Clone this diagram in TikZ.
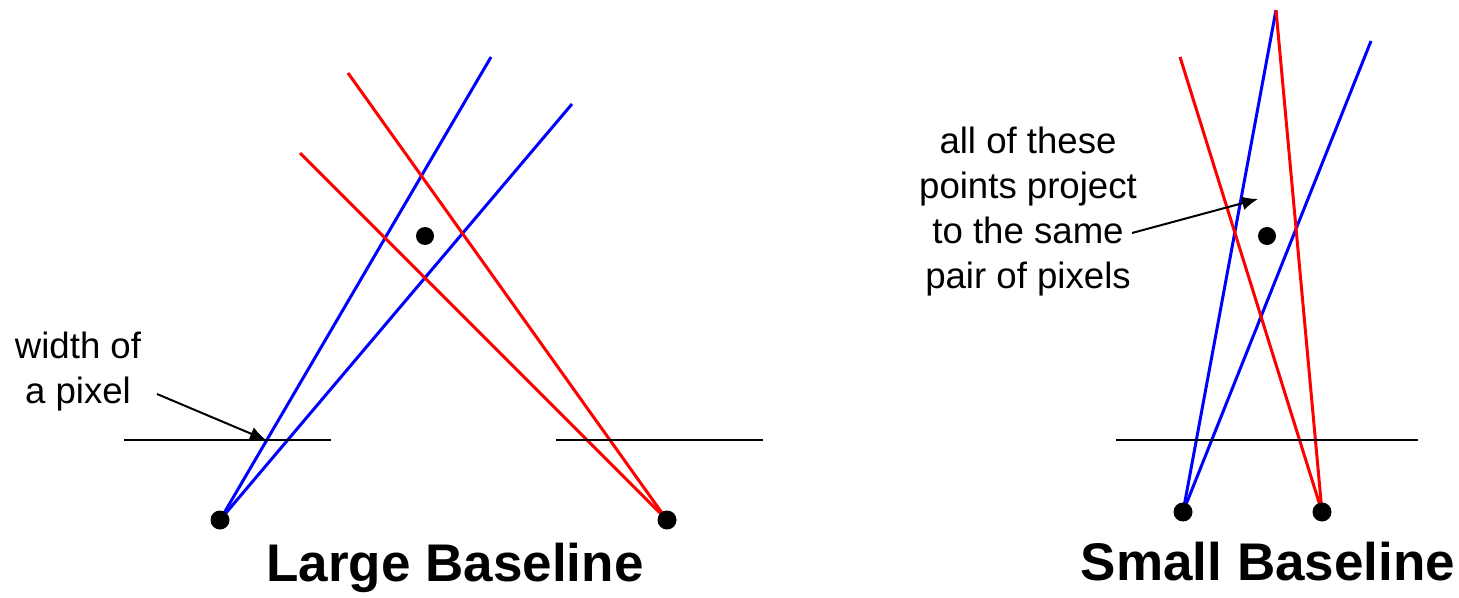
\documentclass[tikz,border=0pt]{standalone}
\usepackage{fontspec}
\setmainfont{Liberation Sans}
\usetikzlibrary{arrows.meta,positioning,calc}
\definecolor{rayoA}{HTML}{0000FF}
\definecolor{rayoR}{HTML}{FF0000}
\tikzset{
  camara/.style={circle,fill=black,inner sep=0pt,minimum size=9.5pt},
  punto/.style={circle,fill=black,inner sep=0pt,minimum size=9pt},
  rayo/.style={line width=1.5pt},
  plano/.style={line width=1pt},
  nota/.style={align=center,font=\fontsize{18.3}{22.5}\selectfont},
  titulo/.style={font=\fontsize{26.5}{30}\selectfont\bfseries},
  flecha/.style={line width=1pt,-{Latex[length=8pt,width=7pt]}}
}
\newcommand{\rayos}[4]{%
  \foreach \c in {#3,#4} \draw[rayo,#2] (#1) -- (\c);}

\begin{document}
\begin{tikzpicture}[x=0.5pt,y=-0.5pt]
  \useasboundingbox (0,0) rectangle (1459,598);
  % linea base grande
  \coordinate (camA) at (220,520);
  \coordinate (camB) at (667,520);
  \coordinate (a1) at (491,57);
  \coordinate (a2) at (572,104);
  \coordinate (b1) at (348,73);
  \coordinate (b2) at (300,153);
  \rayos{camA}{rayoA}{a1}{a2}
  \rayos{camB}{rayoR}{b1}{b2}
  \node[camara] (ojoA) at (camA) {};
  \node[camara] (ojoB) at (camB) {};
  \node[punto] (objA) at (425,236) {};
  \coordinate (pA1) at (124,440); \coordinate (pA2) at (331,440);
  \coordinate (pB1) at (556,440); \coordinate (pB2) at (763,440);
  \draw[plano] (pA1) -- (pA2);
  \draw[plano] (pB1) -- (pB2);
  \node[nota] (ancho) at (78,372) {width of\\a pixel};
  \coordinate (anchoF) at (157,394);
  \coordinate (pixel) at (266,440);
  \draw[flecha] (anchoF) -- (pixel);
  \node[titulo] (tituloA) at (455,568) {Large Baseline};
  % linea base pequena
  \coordinate (camC) at (1183,512);
  \coordinate (camD) at (1322,512);
  \coordinate (c1) at (1276,10);
  \coordinate (c2) at (1371,41);
  \coordinate (d1) at (1276,10);
  \coordinate (d2) at (1180,57);
  \rayos{camC}{rayoA}{c1}{c2}
  \rayos{camD}{rayoR}{d1}{d2}
  \node[camara] (ojoC) at (camC) {};
  \node[camara] (ojoD) at (camD) {};
  \node[punto] (objB) at (1267,236) {};
  \coordinate (pC1) at (1116,440); \coordinate (pC2) at (1418,440);
  \draw[plano] (pC1) -- (pC2);
  \node[nota] (todos) at (1028,212) {all of these\\points project\\to the same\\pair of pixels};
  \coordinate (todosF) at (1132,233);
  \coordinate (cruce) at (1258,199);
  \draw[flecha] (todosF) -- (cruce);
  \node[titulo] (tituloB) at (1268,562) {Small Baseline};
\end{tikzpicture}
\end{document}
